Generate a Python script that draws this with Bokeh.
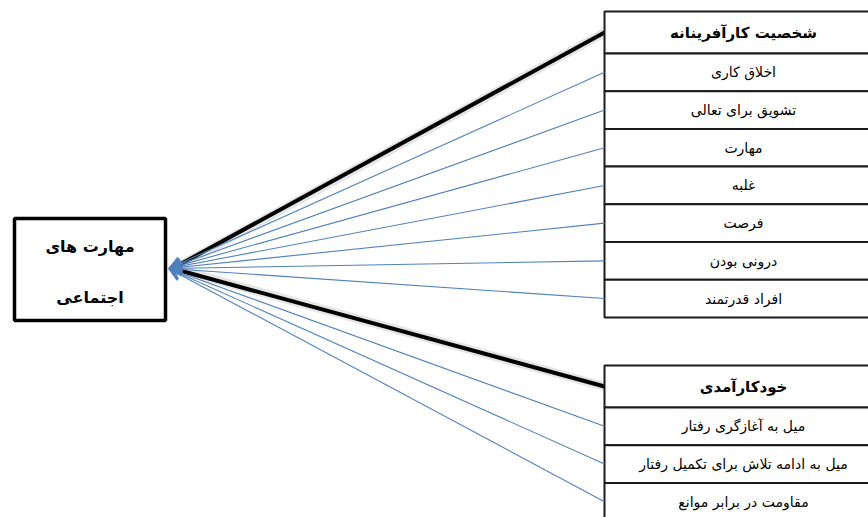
from bokeh.plotting import figure
from bokeh.models import Range1d, Arrow, VeeHead
from bokeh.core.properties import value
from bokeh.embed import file_html
from bokeh.resources import INLINE

# ---- content ----
target_lines = ["مهارت های", "اجتماعی"]
header1 = "شخصیت کارآفرینانه"
items1 = ["اخلاق کاری", "تشویق برای تعالی", "مهارت", "غلبه", "فرصت", "درونی بودن", "افراد قدرتمند"]
header2 = "خودکارآمدی"
items2 = ["میل به آغازگری رفتار", "میل به ادامه تلاش برای تکمیل رفتار", "مقاومت در برابر موانع"]

# ---- layout (reference pixel space) ----
FONT = "DejaVu Sans"
W, H = 868, 517
TBL_L, TBL_R = 604, 880
TEXT_CX = 743
HEAD_H, ROW_H = 42, 37.7
TOP1, TOP2 = 11, 365
BOX = dict(left=14, right=165, top=218, bottom=320)
TIP = (168, 268)
BLUE = "#4f81bd"

p = figure(width=W, height=H, output_backend="svg", toolbar_location=None,
           x_range=Range1d(0, W), y_range=Range1d(H, 0),
           min_border=0, outline_line_color=None)
p.axis.visible = False
p.grid.visible = False
p.background_fill_color = "white"


def table_rows(top, n):
    bounds = [top, top + HEAD_H]
    for i in range(n):
        bounds.append(bounds[-1] + ROW_H)
    return bounds


b1 = table_rows(TOP1, len(items1))
b2 = table_rows(TOP2, len(items2))

# connecting lines
for bounds in (b1, b2):
    head_mid = (bounds[0] + bounds[1]) / 2
    p.line([TBL_L, TIP[0] + 6], [head_mid, TIP[1]], line_color="#cccccc", line_width=9, line_alpha=0.5)
    p.line([TBL_L, TIP[0] + 4], [head_mid, TIP[1]], line_color="black", line_width=4)
    for i in range(1, len(bounds) - 1):
        mid = (bounds[i] + bounds[i + 1]) / 2
        p.add_layout(Arrow(x_start=TBL_L, y_start=mid, x_end=TIP[0], y_end=TIP[1],
                           line_color=BLUE, line_width=1.1,
                           end=VeeHead(size=13, fill_color=BLUE, line_color=BLUE, line_width=1)))

# tables
for bounds, header, items in ((b1, header1, items1), (b2, header2, items2)):
    tops = bounds[:-1]
    bots = bounds[1:]
    p.quad(left=TBL_L, right=TBL_R, top=tops, bottom=bots, fill_color="white",
           line_color="#1a1a1a", line_width=2)
    mids = [(t + b) / 2 for t, b in zip(tops, bots)]
    p.text(x=[TEXT_CX], y=[mids[0]], text=[header], text_font=value(FONT), text_font_size="15px",
           text_font_style="bold", text_align="center", text_baseline="middle", text_color="black")
    p.text(x=[TEXT_CX] * len(items), y=mids[1:], text=items, text_font=value(FONT),
           text_font_size="14px", text_align="center", text_baseline="middle", text_color="black")

# target box
p.quad(left=BOX["left"], right=BOX["right"], top=BOX["top"], bottom=BOX["bottom"],
       fill_color="white", line_color="black", line_width=3.5)
bx = (BOX["left"] + BOX["right"]) / 2
p.text(x=[bx, bx], y=[246, 297], text=target_lines, text_font=value(FONT),
       text_font_size="16px", text_font_style="bold", text_align="center",
       text_baseline="middle", text_color="black")

open("out.html", "w").write(file_html(p, INLINE))
